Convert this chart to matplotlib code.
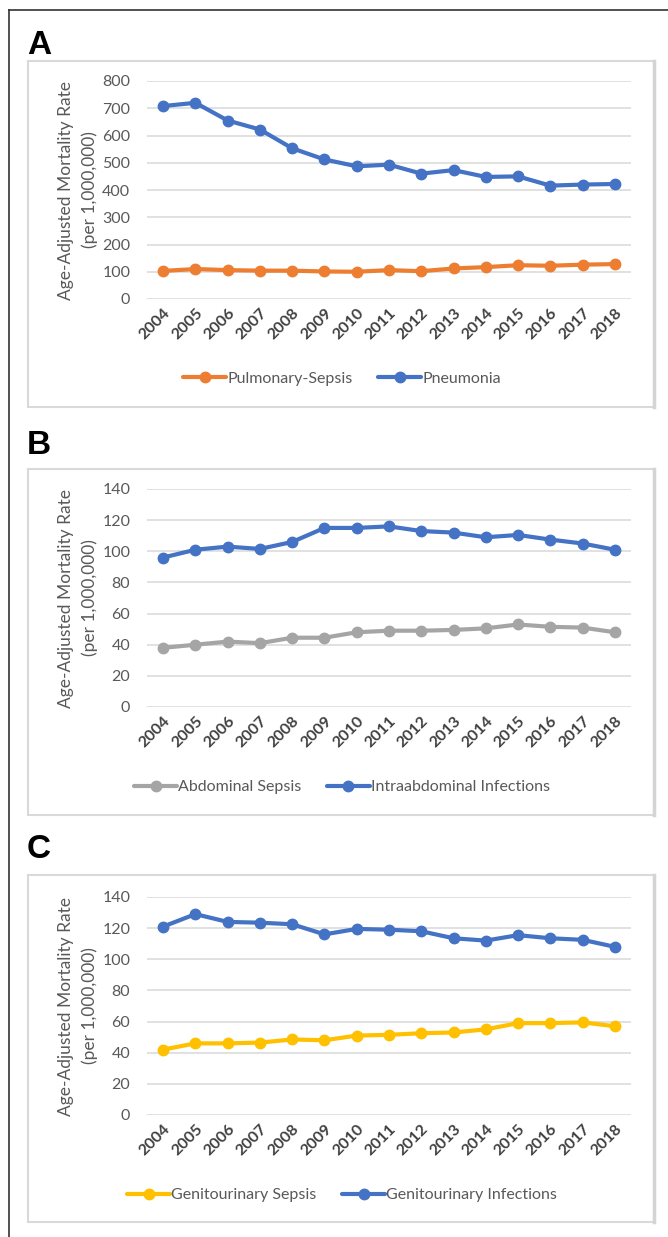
import matplotlib
matplotlib.use("Agg")
import matplotlib.pyplot as plt
from matplotlib.patches import Rectangle
from matplotlib.lines import Line2D

plt.rcParams['font.family'] = ['Lato', 'DejaVu Sans']

years = [str(y) for y in range(2004, 2019)]

pneumonia = [708, 720, 655, 622, 553, 512, 487, 493, 460, 473, 448, 450, 416, 420, 422]
pulmonary_sepsis = [103, 110, 106, 104, 104, 101, 100, 106, 102, 112, 117, 124, 122, 126, 128]

intraabdominal = [96, 101, 103, 101.5, 106, 115, 115, 116, 113, 112, 109, 110.5, 107.5, 105, 101]
abdominal_sepsis = [38, 40, 42, 41, 44.5, 44.5, 48, 49, 49, 49.5, 50.5, 53, 51.5, 51, 48]

gu_infections = [121, 129, 124, 123.5, 122.5, 116, 119.5, 119, 118, 113.5, 112, 115.5, 113.5, 112.5, 108]
gu_sepsis = [42, 46, 46, 46.5, 48.5, 48, 51, 51.5, 52.5, 53, 55, 59, 59, 59.5, 57]

panels = [
    dict(letter="A", ylim=800, step=100,
         series=[("Pulmonary-Sepsis", pulmonary_sepsis, "#ED7D31"),
                 ("Pneumonia", pneumonia, "#4472C4")],
         box=(61, 407), grid=(81, 299), legend_y=379, letter_y=46),
    dict(letter="B", ylim=140, step=20,
         series=[("Abdominal Sepsis", abdominal_sepsis, "#A5A5A5"),
                 ("Intraabdominal Infections", intraabdominal, "#4472C4")],
         box=(469, 815), grid=(489, 707), legend_y=787, letter_y=445),
    dict(letter="C", ylim=140, step=20,
         series=[("Genitourinary Sepsis", gu_sepsis, "#FFC000"),
                 ("Genitourinary Infections", gu_infections, "#4472C4")],
         box=(875, 1222), grid=(897, 1115), legend_y=1195, letter_y=850),
]

W, H = 668, 1237
fig = plt.figure(figsize=(W / 100, H / 100), dpi=100)

def fx(px):
    return px / W

def fy(py):
    return 1 - py / H

# outer border (top and left)
fig.add_artist(Line2D([fx(8.5), fx(8.5)], [fy(10), fy(1237)], color="#333333", lw=1.2))
fig.add_artist(Line2D([fx(8.5), fx(668)], [fy(10), fy(10)], color="#333333", lw=1.2))

for p in panels:
    top, bot = p["box"]
    fig.add_artist(Rectangle((fx(28), fy(bot)), fx(654) - fx(28), fy(top) - fy(bot),
                             transform=fig.transFigure, fill=False,
                             edgecolor="#D9D9D9", lw=1.5))
    fig.add_artist(Line2D([fx(654), fx(654)], [fy(bot), fy(top)], color="#D4D4D4", lw=2.5))
    fig.text(fx(27), fy(p["letter_y"]), p["letter"], fontsize=24, fontweight="bold",
             family=["Liberation Sans", "DejaVu Sans"], va="center", ha="left", color="black")

    g_top, g_bot = p["grid"]
    ax = fig.add_axes([fx(147), fy(g_bot), fx(631) - fx(147), fy(g_top) - fy(g_bot)])
    x = list(range(len(years)))
    for name, vals, col in p["series"]:
        ax.plot(x, vals, color=col, lw=3, marker="o", markersize=7.5, label=name,
                solid_capstyle="round", zorder=3)
    ax.set_xlim(-0.5, len(years) - 0.5)
    ax.set_ylim(0, p["ylim"])
    ax.set_yticks(range(0, p["ylim"] + 1, p["step"]))
    ax.set_xticks(x)
    ax.set_xticklabels(years, rotation=45, ha="right", rotation_mode="anchor",
                       fontsize=11.5, color="#404040", fontweight="bold")
    ax.tick_params(axis="both", length=0)
    ax.tick_params(axis="y", colors="#595959", labelsize=11.5, pad=12)
    ax.tick_params(axis="x", pad=5)
    ax.grid(axis="y", color="#D9D9D9", lw=1.1)
    ax.set_axisbelow(True)
    for s in ax.spines.values():
        s.set_visible(False)
    ax.set_ylabel("Age-Adjusted Mortality Rate\n(per 1,000,000)", color="#595959",
                  fontsize=12.5, labelpad=3, linespacing=1.55)
    ax.legend(loc="center", bbox_to_anchor=(fx(342), fy(p["legend_y"])),
              bbox_transform=fig.transFigure, ncol=2, frameon=False,
              fontsize=11.5, handlelength=2.7, columnspacing=1.6, handletextpad=0.05,
              labelcolor="#595959")

fig.savefig("out.png", dpi=100)
